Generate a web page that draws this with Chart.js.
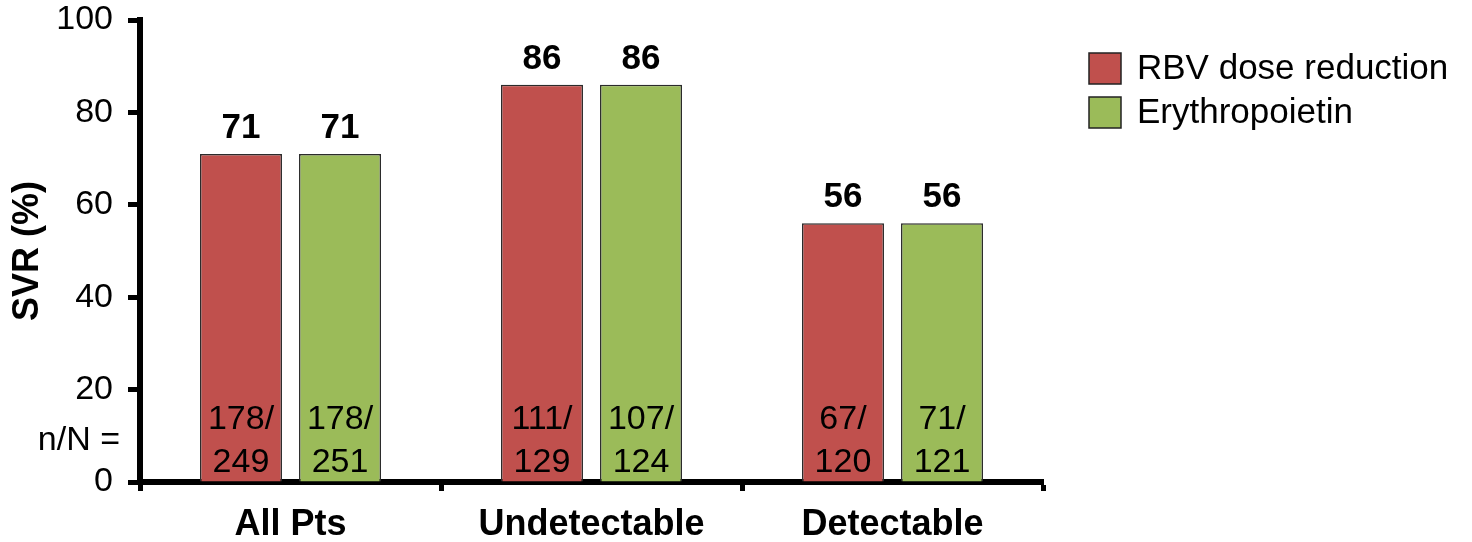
<!DOCTYPE html>
<html>
<head>
<meta charset="utf-8">
<script src="https://cdn.jsdelivr.net/npm/chart.js@4/dist/chart.umd.min.js"></script>
<style>
  html, body { margin: 0; padding: 0; background: #fff; }
  #wrap { width: 1472px; height: 542px; }
</style>
</head>
<body>
<div id="wrap"><canvas id="svrChart"></canvas></div>
<script>
// SVR by viral status, two anemia management arms
const categories = ["All Pts", "Undetectable", "Detectable"];
const seriesNames = ["RBV dose reduction", "Erythropoietin"];
const rbvValues = [71, 86, 56];
const epoValues = [71, 86, 56];
const rbvCounts = ["178/249", "111/129", "67/120"];
const epoCounts = ["178/251", "107/124", "71/121"];
const yTicks = [0, 20, 40, 60, 80, 100];

const FONT = "'Liberation Sans', Arial, Helvetica, sans-serif";
const colors = ["#c0504d", "#9bbb59"];

// labels on and inside the bars, the n/N caption and the legend
const barLabels = {
  id: "barLabels",
  afterDatasetsDraw(chart) {
    const ctx = chart.ctx;
    const area = chart.chartArea;
    const counts = [rbvCounts, epoCounts];
    ctx.save();
    ctx.fillStyle = "#000";
    ctx.textAlign = "center";
    chart.data.datasets.forEach((ds, i) => {
      chart.getDatasetMeta(i).data.forEach((bar, j) => {
        ctx.font = "bold 35px " + FONT;
        ctx.textBaseline = "alphabetic";
        ctx.fillText(String(ds.data[j]), bar.x, bar.y - 16);
        const parts = counts[i][j].split("/");
        ctx.font = "34px " + FONT;
        ctx.textBaseline = "middle";
        ctx.fillText(parts[0] + "/", bar.x, bar.base - 62);
        ctx.fillText(parts[1], bar.x, bar.base - 19);
      });
    });

    ctx.font = "34px " + FONT;
    ctx.textAlign = "right";
    ctx.textBaseline = "middle";
    ctx.fillText("n/N =", area.left - 20, 441);

    // legend
    ctx.textAlign = "left";
    ctx.font = "35px " + FONT;
    chart.data.datasets.forEach((ds, i) => {
      const x = area.right + 46;
      const y = 53 + i * 44;
      ctx.fillStyle = ds.backgroundColor;
      ctx.fillRect(x, y, 32, 31);
      ctx.strokeStyle = "#222";
      ctx.lineWidth = 1.5;
      ctx.strokeRect(x, y, 32, 31);
      ctx.fillStyle = "#000";
      ctx.fillText(ds.label, x + 48, y + 16);
    });
    ctx.restore();
  }
};

new Chart(document.getElementById("svrChart"), {
  type: "bar",
  data: {
    labels: categories,
    datasets: [
      {
        label: seriesNames[0],
        data: rbvValues,
        backgroundColor: colors[0],
        borderColor: "#2b2b2b",
        borderWidth: 1.5,
        categoryPercentage: 0.658,
        barPercentage: 0.828,
      },
      {
        label: seriesNames[1],
        data: epoValues,
        backgroundColor: colors[1],
        borderColor: "#2b2b2b",
        borderWidth: 1.5,
        categoryPercentage: 0.658,
        barPercentage: 0.828,
      },
    ],
  },
  options: {
    responsive: true,
    maintainAspectRatio: false,
    animation: false,
    layout: { padding: { top: 20, right: 429, left: 0, bottom: 0 } },
    plugins: {
      legend: { display: false },
      tooltip: { enabled: false },
    },
    scales: {
      x: {
        grid: {
          display: true,
          drawOnChartArea: false,
          drawTicks: true,
          tickLength: 9,
          tickWidth: 5,
          tickColor: "#000",
        },
        border: { color: "#000", width: 6 },
        ticks: {
          color: "#000",
          padding: 16,
          font: { family: FONT, size: 36, weight: "bold", lineHeight: 1 },
          maxRotation: 0,
        },
        afterFit: (s) => { s.height = 60; },
      },
      y: {
        min: 0,
        max: 100,
        afterBuildTicks: (s) => { s.ticks = yTicks.map((v) => ({ value: v })); },
        grid: {
          display: true,
          drawOnChartArea: false,
          drawTicks: true,
          tickLength: 12,
          tickWidth: 5,
          tickColor: "#000",
        },
        border: { color: "#000", width: 6 },
        ticks: {
          color: "#000",
          padding: 15,
          font: { family: FONT, size: 34, lineHeight: 1 },
        },
        title: {
          display: true,
          text: "SVR (%)",
          color: "#000",
          font: { family: FONT, size: 36, weight: "bold", lineHeight: 1 },
          padding: { top: 10, bottom: 0 },
        },
        afterFit: (s) => {
          s.width = 140;
          s.paddingTop = 0;
          s.paddingBottom = 0;
        },
      },
    },
  },
  plugins: [barLabels],
});
</script>
</body>
</html>
